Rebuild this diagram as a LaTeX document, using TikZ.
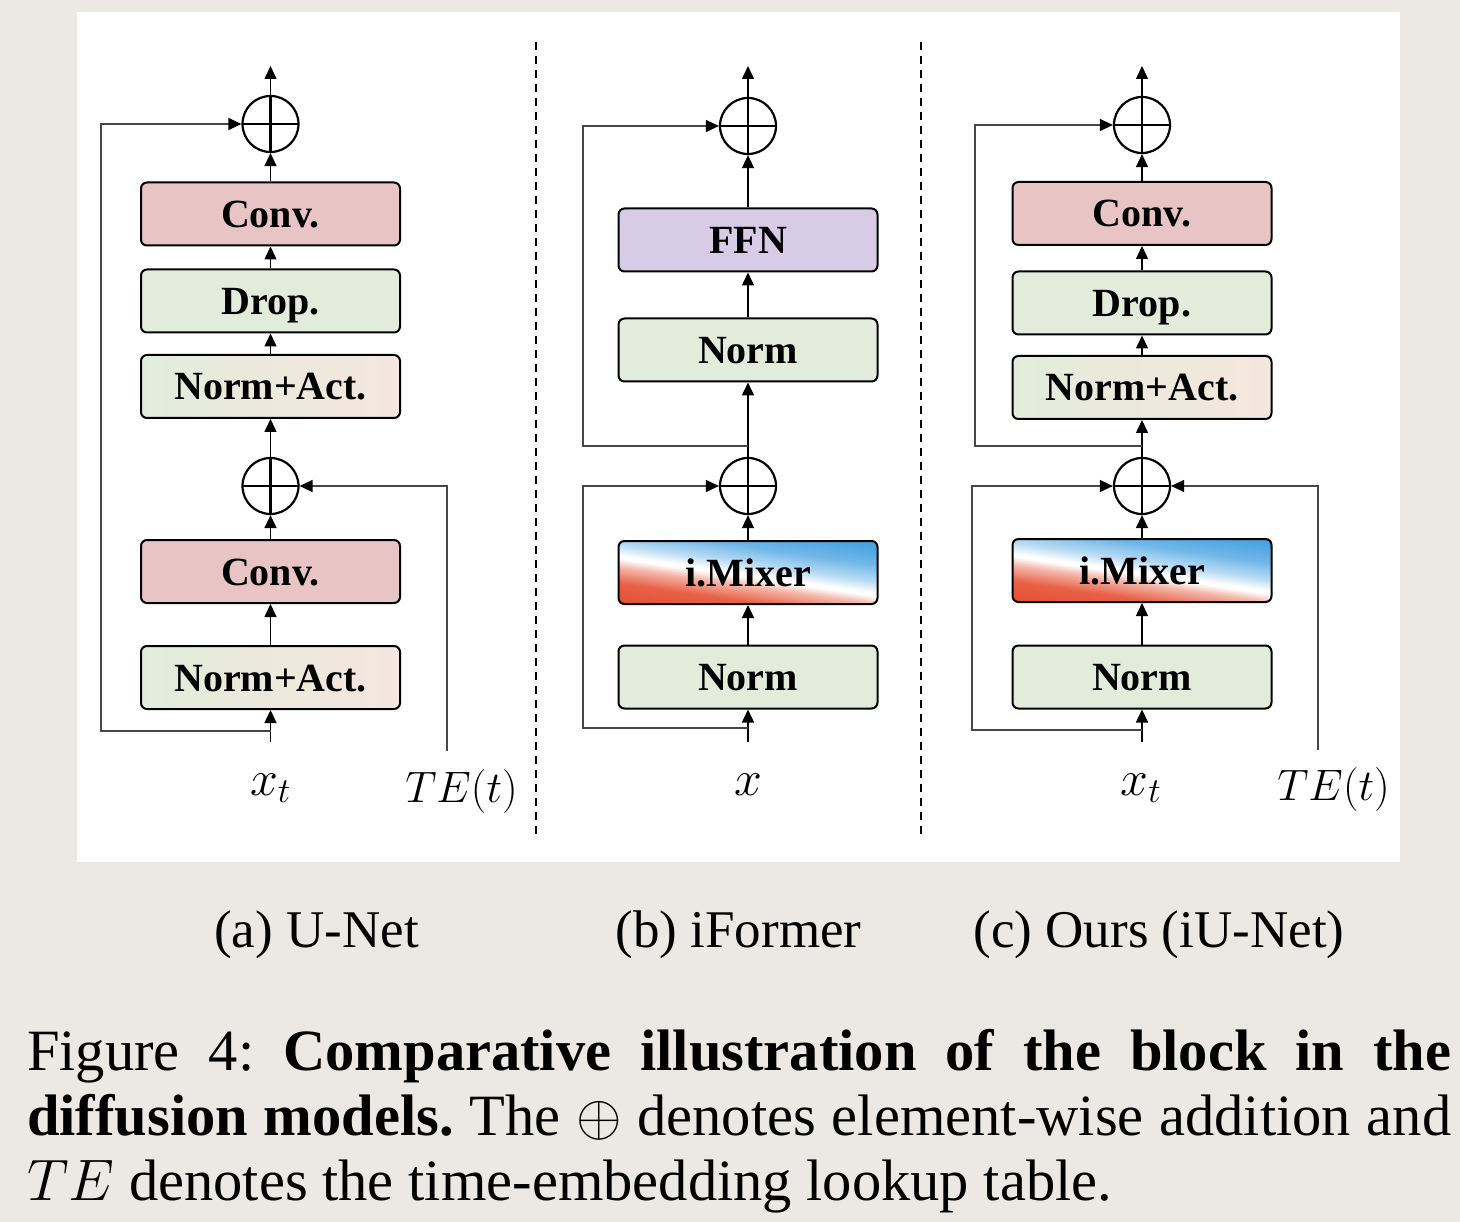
\RequirePackage{fix-cm}
\documentclass[tikz,border=0pt]{standalone}
\usepackage{fontspec}
\setmainfont{Liberation Serif}
\usetikzlibrary{arrows.meta,shadings}
\definecolor{bgc}{RGB}{236,233,228}
\definecolor{convc}{RGB}{232,196,197}
\definecolor{greenc}{RGB}{227,236,219}
\definecolor{pinkc}{RGB}{245,230,222}
\definecolor{ffnc}{RGB}{216,203,230}
\definecolor{mixred}{RGB}{230,80,50}
\definecolor{mixblue}{RGB}{72,163,226}
\newcommand\mixgrad[1]{%
  \begin{scope}[shift={(#1)}, x=1pt, y=1pt]
    \clip[rounded corners=6pt] (-129.5,-31.5) rectangle (129.5,31.5);
    \begin{scope}[rotate=-8.3]
      \foreach \tval in {-58,-56.5,...,58}{
        \pgfmathsetmacro{\rr}{max(0,min(100,min(90+0.5*(-30-\tval),min(40+3.125*(-14-\tval),5*(-6-\tval)))))}
        \pgfmathsetmacro{\bb}{max(0,min(100,min(38*(\tval+3)/11,min(38+40*(\tval-8)/17,78+22*(\tval-25)/19))))}
        \colorlet{stripc}{mixblue!\bb!white}
        \colorlet{stripc}{mixred!\rr!stripc}
        \fill[stripc] (-200,\tval) rectangle (200,\tval+2);
      }
    \end{scope}
  \end{scope}}
\tikzset{
  blockbox/.style={draw=black, line width=2pt, rounded corners=6pt,
    minimum width=259pt, minimum height=63pt, inner sep=0pt,
    font=\bfseries\fontsize{40}{44}\selectfont, text height=27pt, text depth=0pt},
  convbox/.style={blockbox, fill=convc},
  greenbox/.style={blockbox, fill=greenc},
  nabox/.style={blockbox, left color=greenc, middle color=greenc!80!pinkc, right color=pinkc},
  ffnbox/.style={blockbox, fill=ffnc},
  mixbox/.style={blockbox},
  addop/.style={circle, draw=black, line width=2.2pt, minimum size=56pt, inner sep=0pt,
    path picture={\draw[line width=2.2pt] (path picture bounding box.north) -- (path picture bounding box.south)
      (path picture bounding box.west) -- (path picture bounding box.east);}},
  conn/.style={line width=1.5pt, draw=black, -{Triangle[length=13pt,width=12pt]}},
  skipc/.style={line width=1.3pt, draw=black!72, -{Triangle[length=13pt,width=12pt,color=black]}},
  sepline/.style={line width=2pt, draw=black, dash pattern=on 8pt off 6pt},
  mlabel/.style={anchor=base, inner sep=0pt, font=\fontsize{50}{54}\selectfont},
  telabel/.style={anchor=base, inner sep=0pt, font=\fontsize{44}{50}\selectfont},
  subcap/.style={anchor=base, inner sep=0pt, font=\fontsize{53}{60}\selectfont},
  capline/.style={anchor=base west, inner sep=0pt, font=\fontsize{58.5}{65}\selectfont\frenchspacing},
}
\begin{document}
\begin{tikzpicture}[x=1pt, y=-1pt]
\useasboundingbox (0,0) rectangle (1460,1222);
\fill[bgc] (0,0) rectangle (1460,1222);
\fill[white] (77,12) rectangle (1400,862);

% separators
\coordinate (s1t) at (536,42); \coordinate (s1b) at (536,838);
\coordinate (s2t) at (921,42); \coordinate (s2b) at (921,838);
\draw[sepline] (s1t) -- (s1b);
\draw[sepline] (s2t) -- (s2b);

% ---------------- (a) U-Net
\node[addop] (addTa) at (270.5,124) {};
\node[convbox] (convTa) at (270.5,214) {Conv.};
\node[greenbox] (dropa) at (270.5,301) {Drop.};
\node[nabox] (naTa) at (270.5,386.5) {Norm+Act.};
\node[addop] (addBa) at (270.5,486) {};
\node[convbox] (convBa) at (270.5,571.5) {Conv.};
\node[nabox] (naBa) at (270.5,677.5) {Norm+Act.};
\coordinate (outa) at (270.5,66);
\coordinate (ina) at (270.5,742);
\coordinate (skipa) at (270.5,731);
\coordinate (skipca) at (101,731);
\coordinate (tea) at (447,751);
\draw[conn] (ina) -- (naBa.south);
\draw[conn] (naBa.north) -- (convBa.south);
\draw[conn] (convBa.north) -- (addBa.south);
\draw[conn] (addBa.north) -- (naTa.south);
\draw[conn] (naTa.north) -- (dropa.south);
\draw[conn] (dropa.north) -- (convTa.south);
\draw[conn] (convTa.north) -- (addTa.south);
\draw[conn] (addTa.north) -- (outa);
\draw[skipc] (skipa) -- (skipca) |- (addTa.west);
\draw[skipc] (tea) |- (addBa.east);
\node[mlabel] (xa) at (270.5,795) {$x_t$};
\node[telabel] (tela) at (461.5,802) {$TE(t)$};

% ---------------- (b) iFormer
\coordinate (mixbc) at (748,572.5);
\mixgrad{mixbc}
\node[addop] (addTb) at (748,126) {};
\node[ffnbox] (ffnb) at (748,240) {FFN};
\node[greenbox] (normTb) at (748,350) {Norm};
\node[addop] (addBb) at (748,486) {};
\node[mixbox] (mixb) at (mixbc) {i.Mixer};
\node[greenbox] (normBb) at (748,677) {Norm};
\coordinate (outb) at (748,66);
\coordinate (inb) at (748,742);
\coordinate (skipLb) at (748,728);
\coordinate (cornLb) at (583,728);
\coordinate (skipUb) at (748,446);
\coordinate (cornUb) at (583,446);
\draw[conn] (inb) -- (normBb.south);
\draw[conn] (normBb.north) -- (mixb.south);
\draw[conn] (mixb.north) -- (addBb.south);
\draw[conn] (addBb.north) -- (normTb.south);
\draw[conn] (normTb.north) -- (ffnb.south);
\draw[conn] (ffnb.north) -- (addTb.south);
\draw[conn] (addTb.north) -- (outb);
\draw[skipc] (skipLb) -- (cornLb) |- (addBb.west);
\draw[skipc] (skipUb) -- (cornUb) |- (addTb.west);
\node[mlabel] (xb) at (748,795) {$x$};

% ---------------- (c) Ours
\coordinate (mixcc) at (1142,570.5);
\mixgrad{mixcc}
\node[addop] (addTc) at (1142,125) {};
\node[convbox] (convTc) at (1142,213.5) {Conv.};
\node[greenbox] (dropc) at (1142,303) {Drop.};
\node[nabox] (naTc) at (1142,387.5) {Norm+Act.};
\node[addop] (addBc) at (1142,486) {};
\node[mixbox] (mixc) at (mixcc) {i.Mixer};
\node[greenbox] (normBc) at (1142,677) {Norm};
\coordinate (outc) at (1142,66);
\coordinate (inc) at (1142,742);
\coordinate (skipLc) at (1142,730);
\coordinate (cornLc) at (972,730);
\coordinate (skipUc) at (1142,446);
\coordinate (cornUc) at (975,446);
\coordinate (tec) at (1318,750);
\draw[conn] (inc) -- (normBc.south);
\draw[conn] (normBc.north) -- (mixc.south);
\draw[conn] (mixc.north) -- (addBc.south);
\draw[conn] (addBc.north) -- (naTc.south);
\draw[conn] (naTc.north) -- (dropc.south);
\draw[conn] (dropc.north) -- (convTc.south);
\draw[conn] (convTc.north) -- (addTc.south);
\draw[conn] (addTc.north) -- (outc);
\draw[skipc] (skipLc) -- (cornLc) |- (addBc.west);
\draw[skipc] (skipUc) -- (cornUc) |- (addTc.west);
\draw[skipc] (tec) |- (addBc.east);
\node[mlabel] (xc) at (1141,795) {$x_t$};
\node[telabel] (telc) at (1333.5,800) {$TE(t)$};

% ---------------- captions
\node[subcap] (capa) at (316.5,947) {(a) U-Net};
\node[subcap] (capb) at (738.5,947) {(b) iFormer};
\node[subcap] (capc) at (1159,947) {(c) Ours (iU-Net)};
\node[capline] (cap1) at (27,1070) {\makebox[1424pt][s]{Figure 4: \textbf{Comparative illustration of the block in the}}};
\node[capline] (cap2) at (27,1135) {\makebox[1424pt][s]{\textbf{diffusion models.} The $\oplus$ denotes element-wise addition and}};
\node[capline] (cap3) at (27,1200) {$TE$ denotes the time-embedding lookup table.};
\end{tikzpicture}
\end{document}
